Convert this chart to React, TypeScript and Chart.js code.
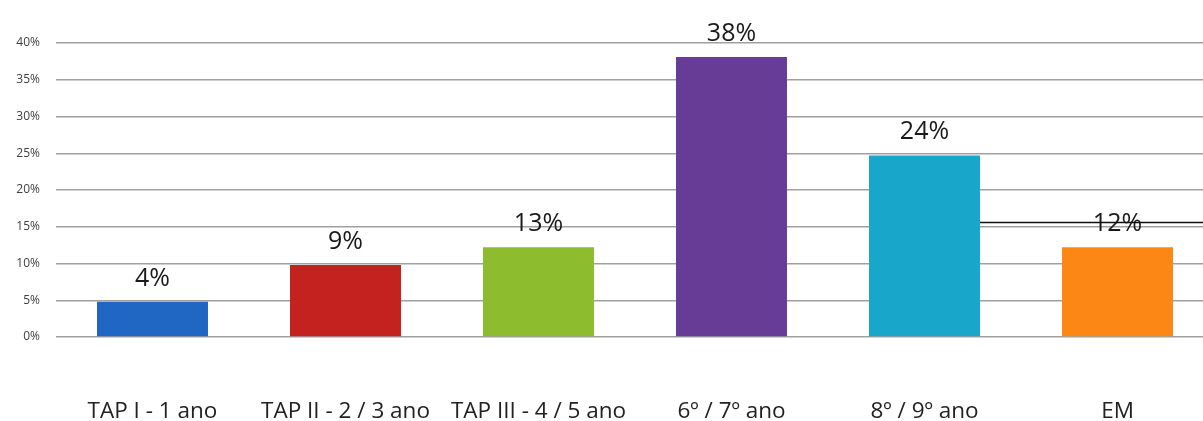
import React, { useEffect, useRef } from "react";
import { Chart, registerables } from "chart.js";

Chart.register(...registerables);

const categories = [
  "TAP I - 1 ano",
  "TAP II - 2 / 3 ano",
  "TAP III - 4 / 5 ano",
  "6º / 7º ano",
  "8º / 9º ano",
  "EM",
];
const barValues = [4.8, 9.8, 12.2, 38.1, 24.7, 12.2];
const valueLabels = ["4%", "9%", "13%", "38%", "24%", "12%"];
const barColors = ["#1F67C2", "#C4221F", "#8EBC2F", "#673C96", "#18A7CB", "#FD8714"];
const yMin = 0;
const yMax = 40;
const yStep = 5;
const strayLineValue = 15.6;

const FONT = "'Open Sans', sans-serif";

const labelPlugin = {
  id: "valueLabels",
  afterDatasetsDraw(chart: any) {
    const ctx = chart.ctx;
    const meta = chart.getDatasetMeta(0);
    ctx.save();
    ctx.font = `25px ${FONT}`;
    ctx.fillStyle = "#1a1a1a";
    ctx.textAlign = "center";
    ctx.textBaseline = "alphabetic";
    meta.data.forEach((bar: any, i: number) => {
      ctx.fillText(valueLabels[i], bar.x, bar.y - 16);
    });
    const b = meta.data[4];
    const y = Math.round(chart.scales.y.getPixelForValue(strayLineValue)) + 0.5;
    ctx.strokeStyle = "#111";
    ctx.lineWidth = 1.3;
    ctx.beginPath();
    ctx.moveTo(b.x + b.width / 2, y);
    ctx.lineTo(chart.chartArea.right, y);
    ctx.stroke();
    ctx.restore();
  },
};

export default function App() {
  const ref = useRef<HTMLCanvasElement>(null);
  useEffect(() => {
    document.body.style.margin = "0";
    const chart = new Chart(ref.current!, {
      type: "bar",
      data: {
        labels: categories,
        datasets: [
          {
            data: barValues,
            backgroundColor: barColors,
            borderWidth: 0,
            barPercentage: 0.575,
            categoryPercentage: 1,
          },
        ],
      },
      options: {
        responsive: false,
        animation: false,
        devicePixelRatio: 1,
        layout: { padding: { top: 43, right: 8, left: 0, bottom: 0 } },
        plugins: { legend: { display: false }, tooltip: { enabled: false } },
        scales: {
          x: {
            grid: { display: false, drawTicks: false, tickLength: 0 },
            border: { display: false },
            ticks: {
              padding: 61,
              color: "#222",
              font: { family: FONT, size: 22.5 },
              maxRotation: 0,
              autoSkip: false,
            },
            afterFit: (s: any) => {
              s.height = 84;
            },
          },
          y: {
            min: yMin,
            max: yMax,
            grid: { color: "#A0A0A0", lineWidth: 1.5, drawTicks: false, tickLength: 0 },
            border: { display: false },
            ticks: {
              stepSize: yStep,
              padding: 16,
              color: "#404040",
              font: { family: FONT, size: 12 },
              callback: (v: any) => `${v}%`,
            },
            afterFit: (s: any) => {
              s.width = 56;
            },
          },
        },
      },
      plugins: [labelPlugin],
    });
    return () => chart.destroy();
  }, []);
  return (
    <div style={{ width: 1203, height: 421, overflow: "hidden", background: "#fff" }}>
      <canvas ref={ref} width={1222} height={421} style={{ display: "block" }} />
    </div>
  );
}
